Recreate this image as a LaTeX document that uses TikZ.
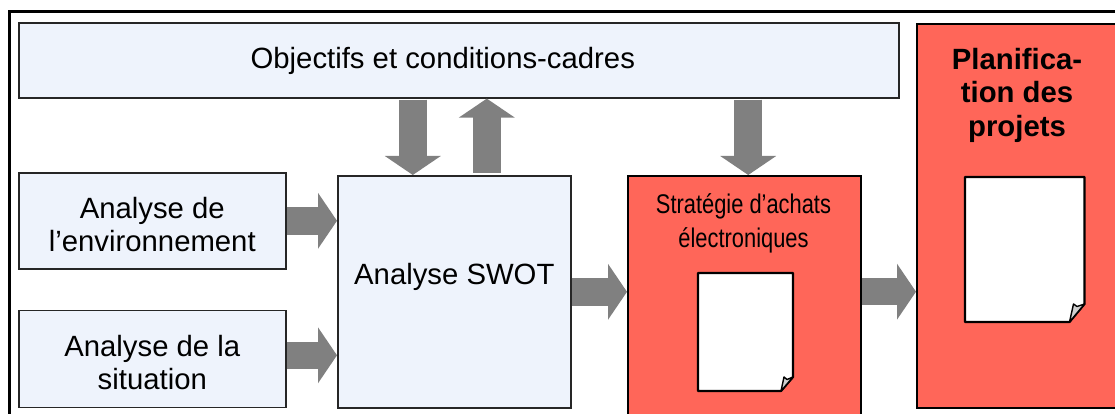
\documentclass[tikz,border=0pt]{standalone}
\usepackage{fontspec}
\setmainfont{Liberation Sans}
\newfontfamily\narrowfont[FakeStretch=0.81]{Liberation Sans}
\usetikzlibrary{arrows.meta,positioning,calc}
\definecolor{boxblue}{HTML}{EEF3FC}
\definecolor{boxred}{HTML}{FF6659}
\definecolor{arrowgray}{HTML}{808080}
\definecolor{foldgray}{HTML}{D0D0D0}
\tikzset{
  bluebox/.style={draw=black!85,line width=1.6pt,fill=boxblue,inner sep=0pt,anchor=north west},
  redbox/.style={draw=black,line width=2.4pt,fill=boxred,inner sep=0pt,anchor=north west},
  bigarrow/.style={draw=arrowgray,line width=27.5pt,{-{Triangle[length=19pt,width=55pt]}},shorten <=0pt},
  page/.style={draw=black,line width=2.2pt,fill=white,line join=round},
  pagefold/.style={draw=black,line width=1.4pt,fill=foldgray,line join=round},
  boxtitle/.style={align=center,inner sep=0pt,font=\fontsize{29.3}{33}\selectfont},
}
\begin{document}
\begin{tikzpicture}[x=1pt,y=-1pt]
\clip (0,0) rectangle (1115,414);
\fill[white] (0,0) rectangle (1115,414);
\draw[line width=2.8pt] (9.5,440) -- (9.5,11.5) -- (1130,11.5);
% boxes
\node[bluebox,minimum width=880pt,minimum height=75pt] (obj) at (18,22) {};
\node[bluebox,minimum width=267pt,minimum height=96pt] (env) at (18,172) {};
\node[bluebox,minimum width=267pt,minimum height=97pt] (sit) at (18,309.5) {};
\node[bluebox,minimum width=233pt,minimum height=232pt] (swot) at (337,175) {};
\node[redbox,minimum width=233pt,minimum height=260pt] (strat) at (627,175) {};
\node[redbox,minimum width=230pt,minimum height=384pt] (plan) at (916,23) {};
% titles
\node[boxtitle] (objtitle) at ([xshift=-16pt,yshift=-0.5pt]obj.center) {Objectifs et conditions-cadres};
\node[boxtitle] (envtitle) at ([yshift=-4pt]env.center) {Analyse de\\l’environnement};
\node[boxtitle] (sittitle) at ([yshift=-4pt]sit.center) {Analyse de la\\situation};
\node[boxtitle] (swottitle) at ([yshift=15pt]swot.center) {Analyse SWOT};
\node[boxtitle,anchor=base,font=\fontsize{27}{34}\selectfont\narrowfont] (strattitle) at (743.5,247) {Stratégie d’achats\\électroniques};
\node[boxtitle,anchor=north,font=\fontsize{29.3}{33.5}\selectfont\bfseries] (plantitle) at (1017,48) {Planifica-\\tion des\\projets};
% documents
\draw[page] (698,273) -- (793,273) -- (793,377) -- (781,391) -- (698,391) -- cycle;
\draw[pagefold] (781,391) -- (784,377) -- (787,379.5) -- (793,377) -- cycle;
\draw[page] (965,177) -- (1084.5,177) -- (1084.5,304) -- (1069.5,322) -- (965,322) -- cycle;
\draw[pagefold] (1069.5,322) -- (1073.5,304) -- (1077,306.5) -- (1084.5,304) -- cycle;
% arrows
\draw[bigarrow] (obj.south -| swot.north) ++(-41.5,1) coordinate (a1s) -- (a1s |- swot.north);
\draw[bigarrow] (swot.north) ++(32.5,-2) coordinate (a2s) -- (a2s |- obj.south);
\draw[bigarrow] (obj.south -| strat.north) ++(3.5,1) coordinate (a3s) -- (a3s |- strat.north);
\draw[bigarrow] (env.east) coordinate (a4s) -- (a4s -| swot.west);
\draw[bigarrow] (sit.east) ++(0,-3.5) coordinate (a5s) -- (a5s -| swot.west);
\draw[bigarrow] (swot.east) coordinate (a6s) -- (a6s -| strat.west);
\draw[bigarrow] (strat.east) ++(0,-14.5) coordinate (a7s) -- (a7s -| plan.west);
\end{tikzpicture}
\end{document}
